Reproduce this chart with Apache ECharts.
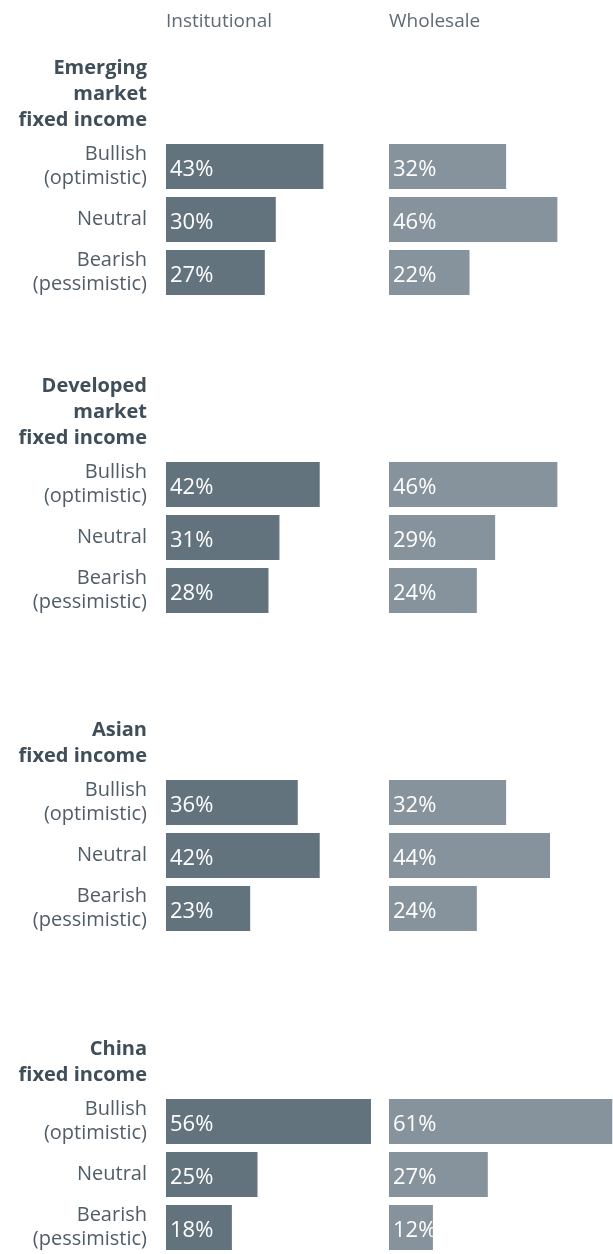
<!DOCTYPE html>
<html>
<head>
<meta charset="utf-8">
<style>
  html, body { margin: 0; padding: 0; background: #ffffff; }
  #chart { width: 613px; height: 1254px; }
</style>
<script src="https://cdn.jsdelivr.net/npm/echarts@6/dist/echarts.min.js"></script>
</head>
<body>
<div id="chart"></div>
<script>
// ---- data ----
const columns = ['Institutional', 'Wholesale'];
const groups = ['Emerging\nmarket\nfixed income', 'Developed\nmarket\nfixed income', 'Asian\nfixed income', 'China\nfixed income'];
const sentiments = ['Bullish\n(optimistic)', 'Neutral', 'Bearish\n(pessimistic)'];
const institutional = [
  [43, 30, 27],
  [42, 31, 28],
  [36, 42, 23],
  [56, 25, 18]
];
const wholesale = [
  [32, 46, 22],
  [46, 29, 24],
  [32, 44, 24],
  [61, 27, 12]
];

// ---- layout ----
const W = 613;
const barTops = [144, 462, 780, 1099];
const colLeft = [166, 389];
const pxPerPct = 3.66;
const axisMax = (W - colLeft[1]) / pxPerPct;
const band = 53, barH = 45;
const labelRight = 147;
const colColors = ['#63737d', '#87939c'];
const font = '"Open Sans", "Noto Sans", sans-serif';

const grids = [], xAxes = [], yAxes = [], series = [], titles = [];

columns.forEach((c, ci) => {
  titles.push({
    text: c, left: colLeft[ci], top: 9, padding: 0,
    textStyle: { fontFamily: font, fontSize: 19, fontWeight: 'normal', color: '#5e6b74', lineHeight: 26 }
  });
});

groups.forEach((g, gi) => {
  const nLines = g.split('\n').length;
  const lastCenter = barTops[gi] - 24;
  titles.push({
    text: g, left: labelRight, top: lastCenter - 13 - 26 * (nLines - 1), padding: 0,
    textAlign: 'right',
    textStyle: { fontFamily: font, fontSize: 20, fontWeight: 'bold', color: '#3f4e58', lineHeight: 26, align: 'right' }
  });
  [institutional, wholesale].forEach((vals, ci) => {
    const idx = grids.length;
    grids.push({ left: colLeft[ci], top: barTops[gi] - (band - barH) / 2, width: pxPerPct * axisMax, height: band * 3 });
    xAxes.push({ gridIndex: idx, type: 'value', min: 0, max: axisMax, show: false });
    yAxes.push({
      gridIndex: idx, type: 'category', inverse: true, data: sentiments,
      axisLine: { show: false }, axisTick: { show: false }, splitLine: { show: false },
      axisLabel: {
        show: ci === 0, margin: colLeft[0] - labelRight,
        fontFamily: font, fontSize: 20, fontWeight: 'normal', color: '#4f5d67', lineHeight: 24, align: 'right'
      }
    });
    series.push({
      type: 'bar', xAxisIndex: idx, yAxisIndex: idx, data: vals[gi],
      barWidth: barH, silent: true,
      itemStyle: { color: colColors[ci] },
      label: {
        show: true, position: 'insideLeft', distance: 4, offset: [0, 3],
        formatter: '{c}%', color: '#ffffff', fontFamily: font, fontSize: 22, fontWeight: 'normal'
      }
    });
  });
});

const chart = echarts.init(document.getElementById('chart'), null, { renderer: 'canvas' });
chart.setOption({
  animation: false,
  backgroundColor: '#ffffff',
  title: titles,
  grid: grids,
  xAxis: xAxes,
  yAxis: yAxes,
  series: series
});
</script>
</body>
</html>
